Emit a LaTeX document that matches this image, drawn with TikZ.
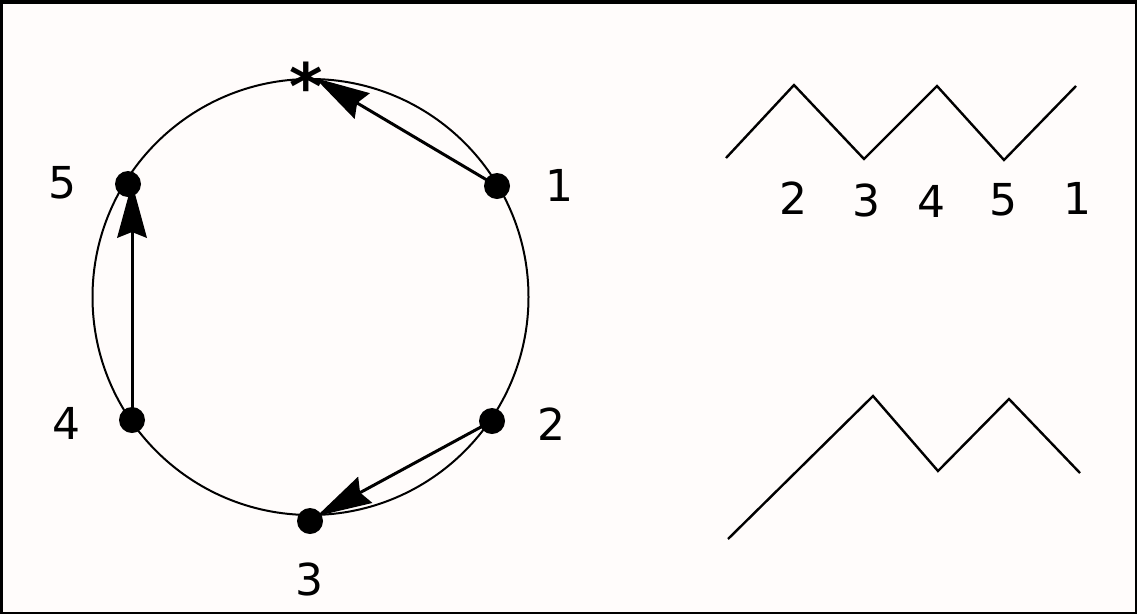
\documentclass[tikz,border=0pt]{standalone}
\usepackage{fontspec}
\setmainfont{DejaVu Sans}
\usetikzlibrary{calc}
\definecolor{bgpaper}{RGB}{255,252,251}
\newcommand{\myarrow}[2]{%
  \draw[line width=3pt] (#1) -- ($(#2)!46pt!(#1)$);
  \fill[black] (#2) -- ($($(#2)!55pt!(#1)$)!15pt!90:(#2)$) -- ($(#2)!49pt!(#1)$) -- ($($(#2)!55pt!(#1)$)!15pt!-90:(#2)$) -- cycle;
}
\begin{document}
\begin{tikzpicture}[x=1pt,y=1pt,
  dot/.style={circle,fill=black,inner sep=0pt,minimum size=26pt},
  lbl/.style={font=\fontsize{44}{44}\selectfont,inner sep=0pt},
  zig/.style={line width=2.4pt,line join=miter}]
\useasboundingbox (0,0) rectangle (1137,-614);
\fill[bgpaper] (0,0) rectangle (1137,-614);
\draw[line width=4pt] (0,-2) -- (1137,-2);
\draw[line width=3pt] (1.5,0) -- (1.5,-614);
\draw[line width=2.5pt] (0,-612.75) -- (1137,-612.75);
\draw[line width=2.5pt] (1135.75,0) -- (1135.75,-614);
% circle
\coordinate (c) at (310.5,-297);
\draw[line width=2pt] (c) circle[radius=218];
% points
\node[dot] (p1) at (497,-186) {};
\node[dot] (p2) at (492,-421) {};
\node[dot] (p3) at (310,-521) {};
\node[dot] (p4) at (132,-420) {};
\node[dot] (p5) at (128,-184) {};
\node[font=\bfseries\fontsize{64}{64}\selectfont,inner sep=0pt] (star) at (306,-86) {*};
\coordinate (startip) at (315,-78);
\coordinate (p3tip) at (317,-516);
\coordinate (p5tip) at (132,-183);
% labels
\node[lbl] (l1) at (559,-185) {1};
\node[lbl] (l2) at (551,-424) {2};
\node[lbl] (l3) at (309,-579) {3};
\node[lbl] (l4) at (66,-423) {4};
\node[lbl] (l5) at (62,-183) {5};
% arrows
\myarrow{p1.center}{startip}
\myarrow{p2.center}{p3tip}
\myarrow{p4.center}{p5tip}
% top zigzag
\coordinate (a0) at (726,-158);
\coordinate (a1) at (794,-85);
\coordinate (a2) at (864,-159);
\coordinate (a3) at (937,-86);
\coordinate (a4) at (1004,-160);
\coordinate (a5) at (1076,-86);
\draw[zig] (a0) -- (a1) -- (a2) -- (a3) -- (a4) -- (a5);
\node[lbl] (t2) at (793,-198) {2};
\node[lbl] (t3) at (866,-200) {3};
\node[lbl] (t4) at (931,-201) {4};
\node[lbl] (t5) at (1003,-200) {5};
\node[lbl] (t1) at (1077,-198) {1};
% bottom zigzag
\coordinate (b0) at (728,-539);
\coordinate (b1) at (873,-396);
\coordinate (b2) at (938,-471);
\coordinate (b3) at (1009,-399);
\coordinate (b4) at (1080,-473);
\draw[zig] (b0) -- (b1) -- (b2) -- (b3) -- (b4);
\end{tikzpicture}
\end{document}
